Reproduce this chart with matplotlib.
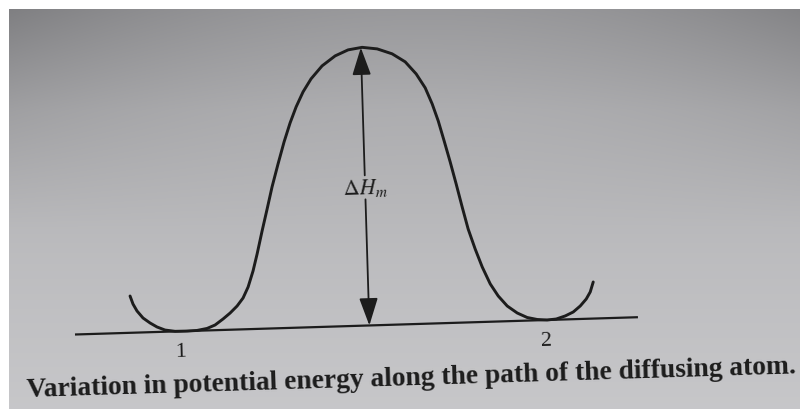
import numpy as np
import matplotlib
matplotlib.use("Agg")
import matplotlib.pyplot as plt
from matplotlib.transforms import Affine2D
from matplotlib.patches import FancyArrowPatch

plt.rcParams["font.family"] = ["Liberation Serif", "DejaVu Serif"]
plt.rcParams["mathtext.fontset"] = "stix"

# energy profile along the diffusion path (distance along path, energy above the well floor)
path_pos = [56.2, 58.9, 62.7, 68.5, 75.4, 82.2, 90.1, 100.1, 112.1, 122.1,
            132.2, 140.3, 148.5, 155.7, 162.9, 169.1, 174.5, 179.9, 184.5, 190.2,
            195.9, 201.5, 208.2, 214.9, 221.5, 228.0, 235.4, 243.8, 255.2, 268.6,
            281.7, 295.8, 310.8, 325.6, 338.4, 349.0, 357.6, 364.1, 369.6, 374.9,
            380.3, 385.6, 390.9, 396.2, 402.6, 409.1, 416.6, 424.2, 432.9, 442.7,
            452.5, 462.5, 472.4, 481.5, 490.6, 498.7, 505.9, 512.1, 516.3, 519.6]
energy = [36.8, 28.7, 21.6, 14.4, 9.2, 5.0, 1.7, 0.1, 0.0, 0.3,
          2.0, 5.2, 11.0, 16.7, 23.5, 31.3, 42.2, 58.0, 74.9, 97.8,
          119.6, 141.5, 164.3, 186.1, 204.9, 220.7, 235.5, 248.3, 260.9, 270.5,
          276.1, 278.2, 276.2, 270.8, 262.4, 250.0, 235.8, 219.5, 202.4, 182.2,
          161.0, 138.8, 115.6, 93.4, 73.2, 55.0, 37.8, 25.5, 15.2, 7.9,
          3.1, 0.8, 0.0, 0.7, 3.5, 7.2, 13.0, 19.8, 26.7, 36.6]

baseline_pos = [0.0, 563.2]
well_pos = [105.4, 470.6]
well_labels = ["1", "2"]
saddle_pos = 294.5
barrier = 278.0
caption = "Variation in potential energy along the path of the diffusing atom."

ink = "#1c1c1c"
tilt = 1.76

fig = plt.figure(figsize=(8, 4.1), dpi=100)
fig.patch.set_facecolor("white")
ax = fig.add_axes([0, 0, 1, 1])

# grey paper: lighter at the bottom, darker in the upper corners
# (yy counts down from the top edge of the paper)
yy, xx = np.mgrid[0:400:2, 0:800:2]
shade = np.interp(yy, [0, 100, 250, 400], [0.60, 0.68, 0.74, 0.78])
shade -= 0.10 * np.clip(1 - yy / 220, 0, 1) * (np.abs(xx - 420) / 420) ** 2
paper = np.dstack([shade, shade, shade + 0.01])
ax.imshow(np.clip(paper, 0, 1), extent=[9, 800, 0, 400], origin="upper",
          aspect="auto", interpolation="bilinear", zorder=0)
ax.set_xlim(0, 800)
ax.set_ylim(0, 410)
ax.axis("off")

# the page is slightly tilted in the frame
page = Affine2D().rotate_deg(tilt).translate(75, 74.5) + ax.transData

ax.plot(baseline_pos, [0, 0], color=ink, lw=1.6, transform=page,
        solid_capstyle="butt", zorder=2)
ax.plot(path_pos, energy, color=ink, lw=2.1, transform=page,
        solid_joinstyle="round", solid_capstyle="round", zorder=3)

# activation energy arrows, split around the label
label_e = barrier * 0.497
gap = 12.0
for e0, e1 in [(label_e + gap, barrier), (label_e - gap, 0.0)]:
    arr = FancyArrowPatch((saddle_pos, e0), (saddle_pos, e1),
                          arrowstyle="-|>,head_length=1.0,head_width=0.34",
                          mutation_scale=17, color=ink, lw=1.3,
                          shrinkA=0, shrinkB=0, transform=page, zorder=3)
    ax.add_patch(arr)

ax.text(saddle_pos, label_e, r"$\Delta H_m$", transform=page, fontsize=16,
        ha="center", va="center", rotation=tilt, color=ink, zorder=4)

for pos, lab in zip(well_pos, well_labels):
    ax.text(pos, -20, lab, transform=page, fontsize=16, ha="center",
            va="center", rotation=tilt, color=ink)

ax.text(-50, -60, caption, transform=page, fontsize=19.8, fontweight="bold",
        ha="left", va="baseline", rotation=tilt, rotation_mode="anchor",
        color=ink)

fig.savefig("out.png", dpi=100)
